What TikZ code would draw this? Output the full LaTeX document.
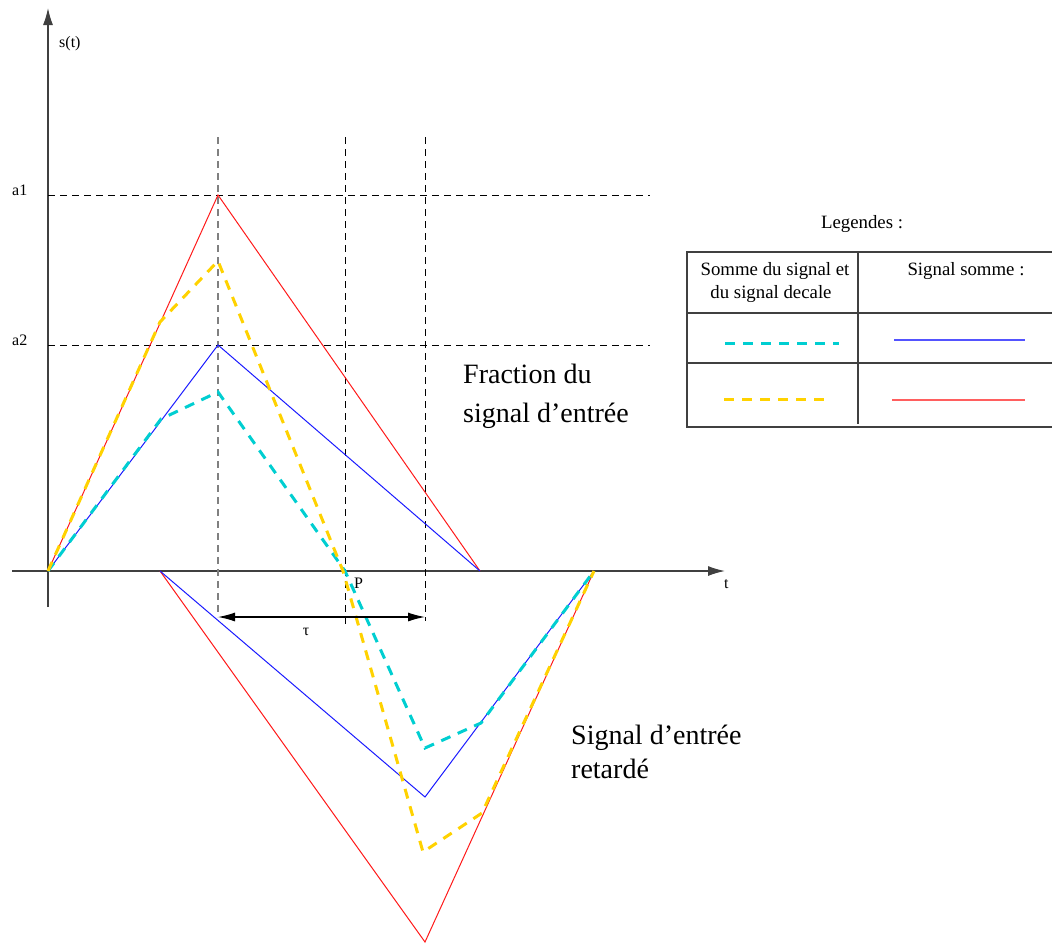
\documentclass[tikz,border=0pt]{standalone}
\usepackage{fontspec}
\setmainfont{Liberation Serif}
\usetikzlibrary{arrows.meta}
\definecolor{Rouge}{HTML}{FF1A1A}
\definecolor{Bleu}{HTML}{1A1AFF}
\definecolor{Turquoise}{HTML}{00CED1}
\definecolor{Jaune}{HTML}{FFD200}
\definecolor{Sombre}{HTML}{404040}
\tikzset{
    axe/.style={-{Latex[length=17pt, width=10pt]}, line width=1.3pt, color=Sombre},
    repere/.style={dash pattern=on 7pt off 5pt, line width=0.9pt, black},
    retard/.style={{Latex[length=17pt, width=9pt]}-{Latex[length=17pt, width=9pt]}, line width=1.2pt, black},
    somme/.style={line width=1pt},
    decale/.style={line width=3pt, dash pattern=on 10pt off 8pt},
    petit/.style={font=\fontsize{16}{18}\selectfont, inner sep=0pt},
    tableau/.style={font=\fontsize{18.8}{23}\selectfont, inner sep=0pt},
    grand/.style={font=\fontsize{28}{34}\selectfont, inner sep=0pt},
    cadre/.style={line width=1.3pt, color=Sombre},
}
\begin{document}
\begin{tikzpicture}[x=1pt, y=-1pt]
    \useasboundingbox (0,0) rectangle (1052,943);

    % Repere
    \coordinate (O) at (48,571);
    \draw[axe] (12,571) -- (725,571);
    \draw[axe] (48,607) -- (48,8);
    \node[petit, anchor=base west] (st) at (59,47) {s(t)};
    \node[petit, anchor=base west] (t) at (724,588) {t};

    % Niveaux a1 et a2
    \draw[repere] (O |- 0,195) -- (650,195);
    \draw[repere] (O |- 0,345) -- (650,345);
    \node[petit, anchor=base west] (a1) at (12,195) {a1};
    \node[petit, anchor=base west] (a2) at (12,345) {a2};

    % Verticales
    \draw[repere, gray, line width=1.4pt] (218,137) -- (218,617);
    \draw[repere] (345,137) -- (345,627);
    \draw[repere] (425,137) -- (425,621);

    % Signaux somme
    \draw[somme, Rouge] (O) -- (218,195) -- (480,571);
    \draw[somme, Rouge] (160,571) -- (425,942) -- (594,571);
    \draw[somme, Bleu] (O) -- (218,345) -- (480,571);
    \draw[somme, Bleu] (160,571) -- (425,797) -- (594,571);

    % Signal et signal decale
    \draw[decale, Turquoise] (O) -- (161,419) -- (218,392) -- (345,571)
        -- (425,748) -- (481,723) -- (594,571);
    \draw[decale, Jaune] (O) -- (160,322) -- (218,261) -- (343,571)
        -- (423,852) -- (482,813) -- (594,571);

    % Retard tau
    \coordinate (tauG) at (218,617);
    \coordinate (tauD) at (425,617);
    \draw[retard] (tauG) -- (tauD);
    \node[petit, anchor=base] (tau) at (306,635) {τ};
    \node[petit, anchor=base west] (P) at (354,588) {P};

    % Annotations
    \node[grand, anchor=base west] (frac1) at (463,383) {Fraction du};
    \node[grand, anchor=base west] (frac2) at (463,422) {signal d’entrée};
    \node[grand, anchor=base west] (ret1) at (571,744) {Signal d’entrée};
    \node[grand, anchor=base west] (ret2) at (571,778) {retardé};

    % Legendes
    \node[tableau, anchor=base] (leg) at (862,228) {Legendes :};
    \draw[cadre] (1052,252) -- (687,252) -- (687,427) -- (1052,427);
    \draw[cadre] (687,313) -- (1052,313);
    \draw[cadre] (687,363) -- (1052,363);
    \draw[cadre] (858,252) -- (858,424);
    \node[tableau, anchor=base] (col1a) at (775,275) {Somme du signal et};
    \node[tableau, anchor=base] (col1b) at (771,298) {du signal decale};
    \node[tableau, anchor=base] (col2) at (966,275) {Signal somme :};
    \draw[decale, Turquoise] (725,343) -- (839,343);
    \draw[Bleu!75, line width=2pt] (894,339.5) -- (1025,339.5);
    \draw[decale, Jaune] (724,399) -- (828,399);
    \draw[Rouge!70, line width=2pt] (892,399.5) -- (1025,399.5);
\end{tikzpicture}
\end{document}
